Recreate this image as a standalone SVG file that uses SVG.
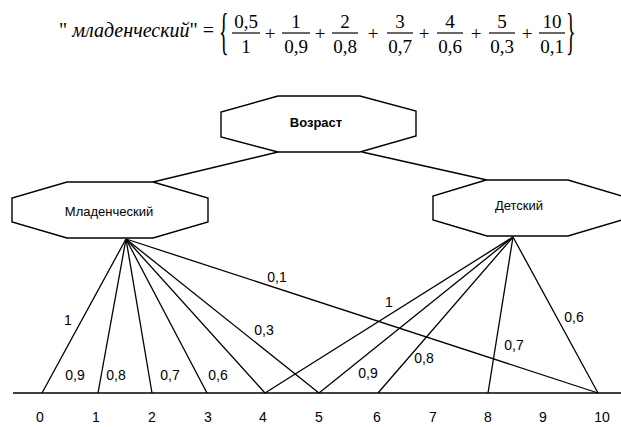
<svg xmlns="http://www.w3.org/2000/svg" width="621" height="427" viewBox="0 0 621 427">
<style>
.f{font-family:"Liberation Serif","Times New Roman",serif;font-size:19px;fill:#000;text-anchor:middle}
.bar{stroke:#000;stroke-width:1.2}
.node{fill:#fff;stroke:#000;stroke-width:1.4}
.lbl{font-family:"Liberation Sans",Arial,sans-serif;font-size:13px;fill:#000;text-anchor:middle}
.e{stroke:#000;stroke-width:1.3;fill:none}
.w{font-family:"Liberation Sans",Arial,sans-serif;font-size:14px;fill:#000;text-anchor:middle}
.ax{font-family:"Liberation Sans",Arial,sans-serif;font-size:14px;fill:#000;text-anchor:middle}
</style>
<rect width="621" height="427" fill="#fff"/>
<g id="formula">
<text x="214" y="37" font-family="Liberation Serif,serif" font-size="20" text-anchor="end">" <tspan font-style="italic">младенческий</tspan>" =</text>
<text transform="translate(219,48) scale(1,2.5)" font-family="Liberation Serif,serif" font-size="20">{</text>
<text transform="translate(566,48) scale(1,2.5)" font-family="Liberation Serif,serif" font-size="20">}</text>
<text class="f" x="246" y="28">0,5</text><line class="bar" x1="232" y1="33" x2="260" y2="33"/><text class="f" x="246" y="53">1</text>
<text class="f" x="270" y="40">+</text>
<text class="f" x="296" y="28">1</text><line class="bar" x1="282" y1="33" x2="310" y2="33"/><text class="f" x="296" y="53">0,9</text>
<text class="f" x="320" y="40">+</text>
<text class="f" x="345" y="28">2</text><line class="bar" x1="332" y1="33" x2="358" y2="33"/><text class="f" x="345" y="53">0,8</text>
<text class="f" x="373" y="40">+</text>
<text class="f" x="400" y="28">3</text><line class="bar" x1="387" y1="33" x2="413" y2="33"/><text class="f" x="400" y="53">0,7</text>
<text class="f" x="424" y="40">+</text>
<text class="f" x="450" y="28">4</text><line class="bar" x1="437" y1="33" x2="463" y2="33"/><text class="f" x="450" y="53">0,6</text>
<text class="f" x="476" y="40">+</text>
<text class="f" x="502" y="28">5</text><line class="bar" x1="489" y1="33" x2="515" y2="33"/><text class="f" x="502" y="53">0,3</text>
<text class="f" x="527" y="40">+</text>
<text class="f" x="552" y="28">10</text><line class="bar" x1="539" y1="33" x2="565" y2="33"/><text class="f" x="552" y="53">0,1</text>
</g>
<g id="connectors">
<line class="e" x1="278" y1="152" x2="153" y2="182"/>
<line class="e" x1="362" y1="152" x2="487" y2="180"/>
<line x1="13" y1="393" x2="621" y2="393" stroke="#000" stroke-width="1.5"/>
<g id="infant-lines">
<line class="e" x1="126" y1="239" x2="42" y2="393"/>
<line class="e" x1="126" y1="239" x2="98" y2="393"/>
<line class="e" x1="126" y1="239" x2="152" y2="393"/>
<line class="e" x1="126" y1="239" x2="207" y2="393"/>
<line class="e" x1="126" y1="239" x2="265" y2="393"/>
<line class="e" x1="126" y1="239" x2="319" y2="393"/>
<line class="e" x1="126" y1="239" x2="598" y2="393"/>
</g>
<g id="child-lines">
<line class="e" x1="513" y1="237" x2="265" y2="393"/>
<line class="e" x1="513" y1="237" x2="319" y2="393"/>
<line class="e" x1="513" y1="237" x2="378" y2="393"/>
<line class="e" x1="513" y1="237" x2="488" y2="393"/>
<line class="e" x1="513" y1="237" x2="598" y2="393"/>
</g>
<g id="edge-labels">
<text class="w" x="68" y="325">1</text>
<text class="w" x="75" y="380">0,9</text>
<text class="w" x="116" y="380">0,8</text>
<text class="w" x="170" y="380">0,7</text>
<text class="w" x="218" y="380">0,6</text>
<text class="w" x="264" y="335">0,3</text>
<text class="w" x="277" y="282">0,1</text>
<text class="w" x="389" y="307">1</text>
<text class="w" x="368" y="378">0,9</text>
<text class="w" x="424" y="363">0,8</text>
<text class="w" x="514" y="350">0,7</text>
<text class="w" x="574" y="322">0,6</text>
</g>
</g>
<g id="axis-labels">
<text class="ax" x="40" y="422">0</text>
<text class="ax" x="96" y="422">1</text>
<text class="ax" x="152" y="422">2</text>
<text class="ax" x="208" y="422">3</text>
<text class="ax" x="263" y="422">4</text>
<text class="ax" x="319" y="422">5</text>
<text class="ax" x="377" y="422">6</text>
<text class="ax" x="433" y="422">7</text>
<text class="ax" x="488" y="422">8</text>
<text class="ax" x="543" y="422">9</text>
<text class="ax" x="602" y="422">10</text>
</g>
<g id="node-vozrast">
<polygon class="node" points="278,96 360,96 416,111 416,136 360,152 278,152 221,137 221,112"/>
<text class="lbl" x="316" y="127" font-weight="bold">Возраст</text>
</g>
<g id="node-mladencheskiy">
<polygon class="node" points="67,182 153,182 208,198 208,222 153,238 67,238 12,222 12,198"/>
<text class="lbl" x="109" y="216" font-size="15">Младенческий</text>
</g>
<g id="node-detskiy">
<polygon class="node" points="486,180 568,180 622,196 622,220 568,236 487,236 433,220 433,196"/>
<text class="lbl" x="519" y="210">Детский</text>
</g>
</svg>
